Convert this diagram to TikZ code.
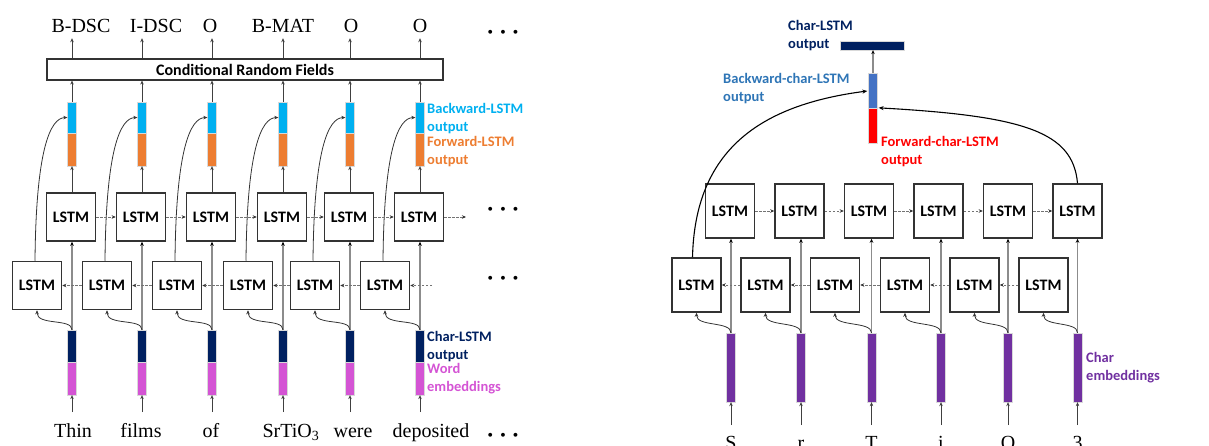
\documentclass[tikz,border=0pt]{standalone}
\usepackage{fontspec}
\setmainfont{Liberation Serif}
\newfontfamily\carlitofont{Carlito}
\usetikzlibrary{arrows.meta,calc}
\definecolor{cyanb}{HTML}{00B0F0}
\definecolor{orangeb}{HTML}{ED7D31}
\definecolor{navyb}{HTML}{002060}
\definecolor{pinkb}{HTML}{D454D4}
\definecolor{blueb}{HTML}{4472C4}
\definecolor{redb}{HTML}{FF0000}
\definecolor{purpb}{HTML}{7030A0}
\definecolor{lblue}{HTML}{2E75B6}
\tikzset{
  lstm/.style={draw=black!80, line width=1.5pt, fill=white, minimum width=49pt, inner sep=0pt,
     font=\carlitofont\bfseries\fontsize{16}{18}\selectfont},
  lstmL/.style={lstm, minimum height=48pt},
  lstmR/.style={lstm, minimum height=54pt},
  bar/.style={inner sep=0pt, minimum width=9pt, draw=white!70!gray, line width=0.3pt},
  arr/.style={draw=black!75, line width=0.7pt, -{Stealth[length=4pt,width=3.5pt]}},
  garr/.style={draw=black!45, line width=1.4pt, -{Stealth[length=4pt,width=3.5pt,color=black]}},
  darr/.style={draw=black!55, line width=0.8pt, dash pattern=on 2.5pt off 1.5pt, -{Stealth[length=4pt,width=3.5pt,color=black!80]}},
  carr/.style={draw=black!80, line width=0.8pt, -{Stealth[length=4pt,width=3.5pt]}},
  barr/.style={draw=black, line width=1.1pt, -{Stealth[length=5pt,width=4pt]}},
  tag/.style={font=\fontsize{20}{22}\selectfont, inner sep=0pt, text height=14pt, text depth=5pt, anchor=base},
  lab/.style={font=\carlitofont\bfseries\fontsize{14.5}{18}\selectfont, align=left, anchor=west, inner sep=0pt},
  dots/.style={font=\fontsize{24}{24}\selectfont\boldmath, inner sep=0pt}
}
\begin{document}
\begin{tikzpicture}[x=1pt,y=-1pt]
\useasboundingbox (0,0) rectangle (1209,446);
\clip (0,0) rectangle (1209,446);

% ================= LEFT PART =================
\node[draw=black!80, line width=1.2pt, minimum width=396pt, minimum height=21pt, inner sep=0pt,
      font=\carlitofont\bfseries\fontsize{16}{18}\selectfont] (crf) at (245,69.5) {Conditional Random Fields};

\foreach \i/\cx/\tx/\tg/\wx/\wrd in {1/72/81/B-DSC/73/Thin, 2/142/156/I-DSC/141/films, 3/212/210/O/211/of,
      4/283/283/B-MAT/291/{SrTiO\textsubscript{3}}, 5/350/351/O/353/were, 6/420/420/O/431/deposited}{
  \node[bar, fill=cyanb, minimum height=31pt] (bl\i) at (\cx,117.5) {};
  \node[bar, fill=orangeb, minimum height=33pt] (or\i) at (\cx,149.5) {};
  \node[bar, fill=navyb, minimum height=32pt] (nv\i) at (\cx,346) {};
  \node[bar, fill=pinkb, minimum height=33pt] (pk\i) at (\cx,378.5) {};
  \node[lstmL] (t\i) at (\cx-1,217) {LSTM};
  \node[lstmL] (b\i) at (\cx-35,285.5) {LSTM};
  \node[tag] (tg\i) at (\tx,33) {\tg};
  \node[tag] (w\i) at (\wx,437) {\wrd};
  % arrows
  \draw[arr] (bl\i.north) -- (bl\i.north |- crf.south);
  \draw[arr] (bl\i.north |- crf.north) -- (bl\i.north |- tg\i.south);
  \draw[arr] (or\i.south |- t\i.north) -- (or\i.south);
  \draw[garr] (nv\i.north) -- (nv\i.north |- t\i.south);
  \draw[carr] (nv\i.north) .. controls (\cx,318) and (\cx-35,326) .. (b\i.south);
  \draw[carr] ([xshift=-2pt]b\i.north) .. controls (\cx-36,150) and (\cx-22,118) .. (bl\i.west);
  \draw[arr] ([yshift=-17pt]pk\i.south) -- (pk\i.south);
}
\foreach \i/\j in {1/2,2/3,3/4,4/5,5/6}{
  \draw[darr] (t\i.east) -- (t\j.west);
  \draw[darr] (b\j.west) -- (b\i.east);
}
\coordinate (tend) at (466,217);
\coordinate (bend) at (432,285.5);
\draw[darr] (t6.east) -- (tend);
\draw[darr] (bend) -- (b6.east);

\node[dots] (d1) at (503,33) {$\cdots$};
\node[dots] (d2) at (503,210) {$\cdots$};
\node[dots] (d3) at (503,279) {$\cdots$};
\node[dots] (d4) at (503,436) {$\cdots$};

\node[lab, text=cyanb] (lb1) at (427,119) {Backward-LSTM\\output};
\node[lab, text=orangeb] (lb2) at (427,152) {Forward-LSTM\\output};
\node[lab, text=navyb] (lb3) at (427,346.5) {Char-LSTM\\output};
\node[lab, text=pinkb] (lb4) at (427,379) {Word\\embeddings};

% ================= RIGHT PART =================
\node[bar, fill=navyb, minimum width=64pt, minimum height=9pt] (co) at (872,45.5) {};
\node[bar, fill=blueb, minimum height=35pt] (bb) at (873,90.5) {};
\node[bar, fill=redb, minimum height=35pt] (rb) at (873,125.5) {};
\draw[garr] (bb.north) -- (bb.north |- co.south);

\foreach \i/\cx/\tx/\bx/\chr in {1/731/730/696.5/S, 2/801/799.5/765.5/r, 3/871.5/869/835/T,
      4/941/938.5/905/i, 5/1008/1008/974.5/O, 6/1077.5/1077.5/1043.5/3}{
  \node[bar, fill=purpb, minimum height=69pt] (pp\i) at (\cx,367.5) {};
  \node[lstmR] (rt\i) at (\tx,211) {LSTM};
  \node[lstmR] (rb\i) at (\bx,285) {LSTM};
  \node[tag] (c\i) at (\cx,449) {\chr};
  \draw[garr] (pp\i.north) -- (pp\i.north |- rt\i.south);
  \draw[carr] (pp\i.north) .. controls (\cx,321) and (\bx,327) .. (rb\i.south);
  \draw[arr] ([yshift=-23pt]pp\i.south) -- (pp\i.south);
}
\foreach \i/\j in {1/2,2/3,3/4,4/5,5/6}{
  \draw[darr] (rt\i.east) -- (rt\j.west);
  \draw[darr] (rb\j.west) -- (rb\i.east);
}
\draw[barr] ([xshift=-4pt]rb1.north) .. controls (695,150) and (760,105) .. ([xshift=-1pt,yshift=-0.5pt]bb.west);
\draw[barr] (rt6.north) .. controls (1073,132) and (1025,116) .. ([xshift=1pt]rb.north east);

\node[lab, text=navyb] (rl1) at (788,35.5) {Char-LSTM\\output};
\node[lab, text=lblue] (rl2) at (723,89) {Backward-char-LSTM\\output};
\node[lab, text=redb] (rl3) at (881,152) {Forward-char-LSTM\\output};
\node[lab, text=purpb] (rl4) at (1086,368) {Char\\embeddings};
\end{tikzpicture}
\end{document}
